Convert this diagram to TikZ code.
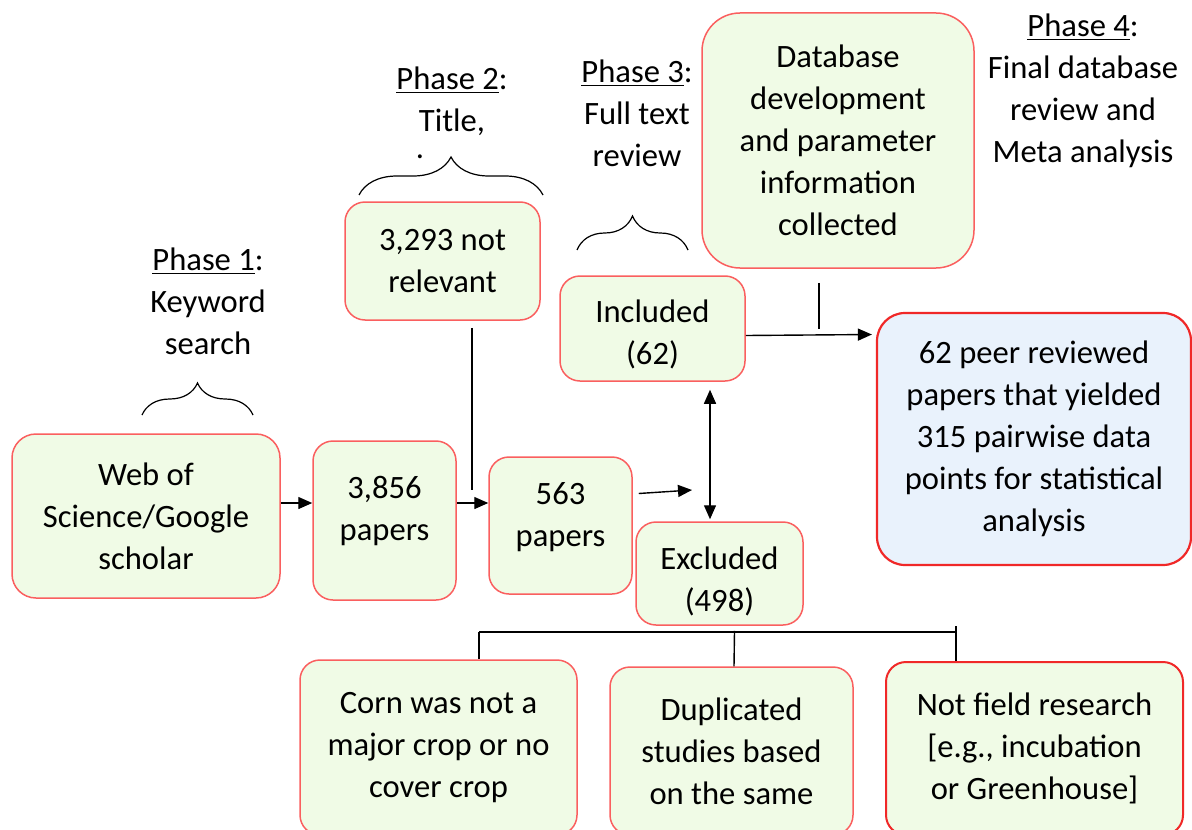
\documentclass[tikz,border=0pt]{standalone}
\usepackage{fontspec}
\setmainfont{Carlito}
\usepackage{tikz}
\usetikzlibrary{arrows.meta,decorations.pathreplacing,calc}
\definecolor{boxfill}{RGB}{240,251,230}
\definecolor{boxline}{RGB}{250,95,95}
\definecolor{peerfill}{RGB}{233,242,252}
\definecolor{peerline}{RGB}{240,40,40}

\begin{document}
\begin{tikzpicture}[x=0.5pt, y=-0.5pt,
  font=\fontsize{16.3}{21}\selectfont,
  box/.style={draw=boxline, line width=0.75pt, fill=boxfill, rounded corners=10pt, align=center, inner sep=0pt},
  phase/.style={align=center, inner sep=0pt},
  arr/.style={-{Triangle[length=7pt,width=6pt]}, line width=0.7pt},
  arrtwo/.style={{Triangle[length=7pt,width=6pt]}-{Triangle[length=7pt,width=6pt]}, line width=0.7pt},
  brc/.style={decorate, decoration={brace, amplitude=#1}, line width=0.6pt}]

  \clip (0,0) rectangle (1192,829);

  %% boxes
  \node[box, minimum width=134pt, minimum height=82pt, rounded corners=12pt] (web) at (146,516) {Web of\\Science/Google\\scholar};
  \node[box, minimum width=71.5pt, minimum height=79.5pt] (p3856) at (384.5,520.5) {3,856\\papers\\[-8.5pt]};
  \node[box, minimum width=97.5pt, minimum height=59pt] (notrel) at (442.5,261) {3,293 not\\relevant};
  \node[box, minimum width=71.5pt, minimum height=68.5pt] (p563) at (560.5,525.5) {563\\papers\\[-10pt]};
  \node[box, minimum width=92.5pt, minimum height=52.5pt] (incl) at (652.5,328.5) {\\[-4pt]Included\\(62)};
  \node[box, minimum width=83.5pt, minimum height=51.5pt] (excl) at (719.5,573.5) {\\[-2pt]Excluded\\(498)};
  \node[box, minimum width=136pt, minimum height=127.5pt, rounded corners=19pt] (dbase) at (838,140.5) {Database\\development\\and parameter\\information\\collected};
  \node[box, draw=peerline, fill=peerfill, line width=1.1pt, minimum width=157pt, minimum height=126pt, rounded corners=14pt] (peer) at (1034,439) {62 peer reviewed\\papers that yielded\\315 pairwise data\\points for statistical\\analysis};
  \node[box, minimum width=138.5pt, minimum height=87.5pt] (corn) at (438.5,747.5) {Corn was not a\\major crop or no\\cover crop};
  \node[box, minimum width=121.5pt, minimum height=84pt] (dup) at (731.5,751) {Duplicated\\studies based\\on the same};
  \node[box, draw=peerline, line width=1pt, minimum width=148.5pt, minimum height=86.5pt] (field) at (1034.5,748.5) {Not field research\\{[}e.g., incubation\\or Greenhouse{]}};

  %% phase labels
  \node[phase] (ph1) at (208,301) {\underline{Phase 1}:\\Keyword\\search};
  \node[phase] (ph2) at (452,101) {\underline{Phase 2}:\\Title,};
  \node[phase] (dot) at (420,157) {.};
  \node[phase] (ph3) at (637,113) {\underline{Phase 3}:\\Full text\\review};
  \node[phase] (ph4) at (1083,91) {\underline{Phase 4}:\\Final database\\review and\\Meta analysis};

  %% braces
  \draw[brc=16pt] (142,415) -- (253,415);
  \draw[brc=19pt] (359,195) -- (543,195);
  \draw[brc=17pt] (577,250) -- (688,250);

  \draw[arr] ([yshift=6.5pt]web.east) -- ([yshift=8.75pt]p3856.west); %% web -> 3,856
  \draw[arr] ([yshift=8.75pt]p3856.east) -- ([yshift=11.25pt]p563.west); %% 3,856 -> 563

  \coordinate (nrend) at (472,490);
  \draw[line width=0.7pt] ($(notrel.south -| nrend)+(0,7)$) -- (nrend); %% not relevant

  \coordinate (split) at (692,490);
  \draw[arr] ($(p563.east)+(6,-32)$) -- (split); %% 563 ->

  \coordinate (updown) at (710,455);
  \draw[arrtwo] ($(incl.south -| updown)+(0,8)$) -- ($(excl.north -| updown)+(0,-2)$); %% incl <-> excl

  \draw[arr] ($(incl.east)+(0,7)$) -- ($(incl.east -| peer.west)+(-4,6)$); %% incl -> peer
  \draw[line width=0.7pt] ($(dbase.south)+(-19,14)$) -- +(0,46);

  %% excluded tree
  \coordinate (treeL) at (479,632);
  \coordinate (treeR) at (956,632);
  \draw[line width=0.7pt] (treeL) -- (treeR);
  \draw[line width=0.7pt] (treeL) -- (treeL |- corn.north);
  \draw[line width=0.7pt] ($(excl.south)+(15,5)$) -- ($(dup.north)+(2.5,0)$);
  \draw[line width=0.7pt] ($(treeR)+(0,-6)$) -- (treeR |- field.north);

\end{tikzpicture}
\end{document}
